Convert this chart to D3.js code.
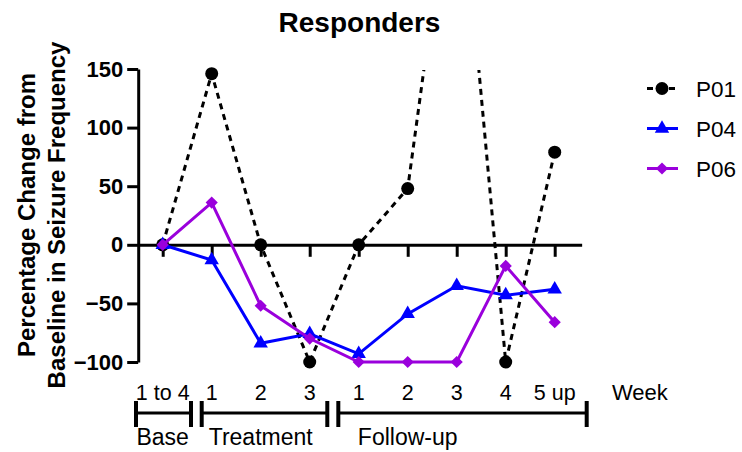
<!DOCTYPE html>
<html><head><meta charset="utf-8">
<script src="https://cdn.jsdelivr.net/npm/d3@7"></script>
<style>body{margin:0;background:#fff} text{font-family:"Liberation Sans",Arial,Helvetica,sans-serif;fill:#000}</style>
</head><body><svg id="c" width="742" height="452"></svg>
<script>
// ---- data ----
const weeks = ["1 to 4","1","2","3","1","2","3","4","5 up"];
const p01 = [0,146,0,-100,0,48,355,-100,79];
const p04 = [0,-13,-84,-76,-93,-59,-35,-43,-38];
const p06 = [0,36,-52,-80,-100,-100,-100,-18,-66];
const yTicks = [-100,-50,0,50,100,150];
const seriesNames = ["P01","P04","P06"];
const groups = ["Base","Treatment","Follow-up"];
const groupStart = [-0.545, 0.796, 3.584];
const groupEnd = [0.578, 3.359, 8.653];
const groupLabelAt = [0, 2, 5];

// ---- chart ----
const svg = d3.select("#c");
const x = d3.scaleLinear().domain([-0.5, 8.55]).range([138.2, 581.65]);
const y = d3.scaleLinear().domain([-100, 150]).range([362, 69]);

svg.append("defs").append("clipPath").attr("id","clip")
  .append("rect").attr("x",0).attr("y",70).attr("width",742).attr("height",382);

// title
svg.append("text").attr("x", 359.5).attr("y", 32).attr("text-anchor","middle")
  .style("font-size","28px").style("font-weight","bold").text("Responders");

// y axis
const ya = svg.append("g").attr("transform","translate(138.2,0)")
  .call(d3.axisLeft(y).tickValues(yTicks).tickSize(11).tickSizeOuter(0).tickPadding(4));
ya.selectAll("path,line").attr("stroke","#000").attr("stroke-width",3);
ya.selectAll("text").style("font-size","22px").style("font-weight","bold")
  .style("font-family","'Liberation Sans',Arial,sans-serif").attr("fill","#000");

// y label
const yl = svg.append("text").attr("transform","translate(35,215) rotate(-90)")
  .attr("text-anchor","middle").style("font-size","24px").style("font-weight","bold");
yl.append("tspan").attr("x",0).attr("y",0).text("Percentage Change from");
yl.append("tspan").attr("x",0).attr("y",30).text("Baseline in Seizure Frequency");

// x axis at zero
const xa = svg.append("g").attr("transform",`translate(0,${y(0)})`)
  .call(d3.axisBottom(x).tickValues(d3.range(weeks.length)).tickSize(12).tickSizeOuter(0).tickFormat(""));
xa.selectAll("path,line").attr("stroke","#000").attr("stroke-width",3);

// week labels
svg.selectAll("text.wk").data(weeks).join("text").attr("class","wk")
  .attr("x",(d,i)=>x(i)).attr("y",400).attr("text-anchor","middle")
  .style("font-size","21.5px").text(d=>d);
svg.append("text").attr("x",612).attr("y",400).style("font-size","22px").text("Week");

// brackets
groups.forEach((g,i)=>{
  const x0 = x(groupStart[i]), x1 = x(groupEnd[i]);
  svg.append("line").attr("x1",x0).attr("x2",x1).attr("y1",413).attr("y2",413)
    .attr("stroke","#000").attr("stroke-width",3);
  [x0,x1].forEach(xx=>svg.append("line").attr("x1",xx).attr("x2",xx).attr("y1",401).attr("y2",427)
    .attr("stroke","#000").attr("stroke-width",4));
  svg.append("text").attr("x",x(groupLabelAt[i])).attr("y",445).attr("text-anchor","middle")
    .style("font-size","23px").text(g);
});

// series
const series = [
  {name:seriesNames[0], vals:p01, color:"#000", dash:"6,5", sym:"circle"},
  {name:seriesNames[1], vals:p04, color:"#0000ff", dash:null, sym:"tri"},
  {name:seriesNames[2], vals:p06, color:"#9a00dc", dash:null, sym:"dia"}
];
const line = d3.line().x((d,i)=>x(i)).y(d=>y(d));
function marker(g, s, cx, cy){
  if(s.sym==="circle") g.append("circle").attr("cx",cx).attr("cy",cy).attr("r",6.5).attr("fill",s.color);
  else if(s.sym==="tri") g.append("path").attr("d",d3.symbol(d3.symbolTriangle,90)()).attr("transform",`translate(${cx},${cy})`).attr("fill",s.color);
  else g.append("path").attr("d",d3.symbol(d3.symbolSquare,74)()).attr("transform",`translate(${cx},${cy}) rotate(45)`).attr("fill",s.color);
}
series.forEach(s=>{
  svg.append("path").attr("clip-path","url(#clip)").attr("d",line(s.vals)).attr("fill","none")
    .attr("stroke",s.color).attr("stroke-width",3).attr("stroke-dasharray",s.dash);
  const g = svg.append("g");
  s.vals.forEach((v,i)=>{ if(y(v) >= 66) marker(g, s, x(i), y(v)); });
});

// legend
series.forEach((s,i)=>{
  const cy = 88.5 + i*40;
  svg.append("line").attr("x1",647).attr("x2",678).attr("y1",cy).attr("y2",cy)
    .attr("stroke",s.color).attr("stroke-width",3).attr("stroke-dasharray",s.dash);
  marker(svg, s, 662, cy);
  svg.append("text").attr("x",696).attr("y",cy+8.5).style("font-size","22.5px").text(s.name);
});
</script></body></html>
